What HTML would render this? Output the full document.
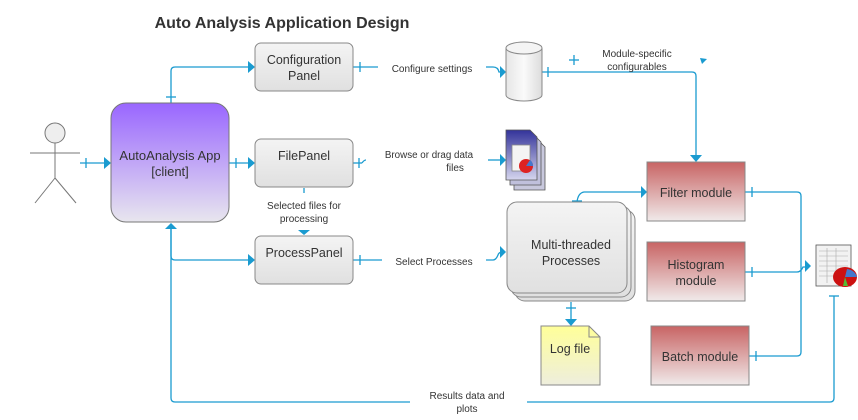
<!DOCTYPE html>
<html><head><meta charset="utf-8"><style>
html,body{margin:0;padding:0;background:#fff;}
svg{display:block;font-family:"Liberation Sans",Arial,sans-serif;}
</style></head><body>
<svg width="858" height="420" viewBox="0 0 858 420" xmlns="http://www.w3.org/2000/svg">
<defs>
<linearGradient id="gp" x1="0" y1="0" x2="0" y2="1"><stop offset="0" stop-color="#9966ff"/><stop offset="1" stop-color="#e8e6ee"/></linearGradient>
<linearGradient id="gg" x1="0" y1="0" x2="0" y2="1"><stop offset="0" stop-color="#f4f4f4"/><stop offset="1" stop-color="#e0e0e0"/></linearGradient>
<linearGradient id="gr" x1="0" y1="0" x2="0" y2="1"><stop offset="0" stop-color="#c86464"/><stop offset="1" stop-color="#f0eaea"/></linearGradient>
<linearGradient id="gy" x1="0" y1="0" x2="0" y2="1"><stop offset="0" stop-color="#ffff99"/><stop offset="1" stop-color="#eeeedd"/></linearGradient>
<linearGradient id="gb" x1="0" y1="0" x2="0" y2="1"><stop offset="0" stop-color="#33339a"/><stop offset="1" stop-color="#d6d6ee"/></linearGradient>
<linearGradient id="gc" x1="0" y1="0" x2="1" y2="0"><stop offset="0" stop-color="#e6e6e6"/><stop offset="0.5" stop-color="#fafafa"/><stop offset="1" stop-color="#dcdcdc"/></linearGradient>
</defs>

<text x="282" y="28" font-size="16" font-weight="bold" fill="#333" text-anchor="middle">Auto Analysis Application Design</text>

<!-- actor -->
<g stroke="#777" stroke-width="1" fill="none">
<circle cx="55" cy="133" r="10" fill="#eee"/>
<line x1="55" y1="143" x2="55" y2="178"/>
<line x1="30" y1="153" x2="80" y2="153"/>
<line x1="55" y1="178" x2="35" y2="203"/>
<line x1="55" y1="178" x2="76" y2="203"/>
</g>

<!-- connectors -->
<g stroke="#1a9bd0" stroke-width="1.3" fill="none">
<line x1="80" y1="163" x2="106" y2="163"/><line x1="86" y1="158" x2="86" y2="168"/>
<path d="M171 103 V71 Q171 67 175 67 H250"/><line x1="166" y1="97" x2="176" y2="97"/>
<line x1="229" y1="163" x2="250" y2="163"/><line x1="236" y1="158" x2="236" y2="168"/>
<line x1="304" y1="188" x2="304" y2="193"/>
<path d="M171 228 V256 Q171 260 175 260 H250"/>
<path d="M171 228 V398 Q171 402 175 402 H410"/>
<path d="M527 402 H830 Q834 402 834 398 V296"/><line x1="829" y1="296" x2="839" y2="296"/>
<line x1="353" y1="67" x2="378" y2="67"/><line x1="360" y1="62" x2="360" y2="72"/>
<path d="M486 67 H493 Q498 67 499 72 Q500 72 502 72"/>
<path d="M542 72 H692 Q696 72 696 76 V156"/><line x1="548" y1="67" x2="548" y2="77"/>
<line x1="574" y1="55" x2="574" y2="65"/><line x1="569" y1="60" x2="579" y2="60"/>
<line x1="353" y1="163" x2="362" y2="163"/><line x1="359" y1="158" x2="359" y2="168"/>
<path d="M362 163 Q364 160 366 160"/>
<line x1="488" y1="160" x2="502" y2="160"/>
<line x1="353" y1="260" x2="382" y2="260"/><line x1="360" y1="255" x2="360" y2="265"/>
<path d="M486 260 H493 Q496 260 498 255 Q499 252 502 252"/>
<path d="M577 202 Q578 193 584 192 H641"/><line x1="572" y1="201" x2="582" y2="201"/>
<line x1="571" y1="302" x2="571" y2="320"/><line x1="566" y1="308" x2="576" y2="308"/>
<path d="M745 192 H797 Q801 192 801 196 V352 Q801 356 797 356 H749"/><line x1="752" y1="187" x2="752" y2="197"/><line x1="756" y1="351" x2="756" y2="361"/>
<path d="M745 272 H797 Q801 272 803 267 H806"/><line x1="752" y1="267" x2="752" y2="277"/>
</g>
<g fill="#1a9bd0">
<polygon points="104,157 111,163 104,169"/>
<polygon points="248,61 255,67 248,73"/>
<polygon points="248,157 255,163 248,169"/>
<polygon points="248,254 255,260 248,266"/>
<polygon points="165,229 171,223 177,229"/>
<polygon points="298,230 310,230 304,235"/>
<polygon points="500,66 506,72 500,78"/>
<polygon points="690,155 702,155 696,162"/>
<polygon points="700,58 707,59 702,64"/>
<polygon points="500,154 506,160 500,166"/>
<polygon points="500,246 506,252 500,258"/>
<polygon points="641,186 647,192 641,198"/>
<polygon points="565,319 577,319 571,326"/>
<polygon points="805,260 811,266 805,272"/>
</g>

<!-- boxes -->
<rect x="111" y="103" width="118" height="119" rx="15" fill="url(#gp)" stroke="#777"/>
<text font-size="13" fill="#333" text-anchor="middle"><tspan x="170" y="160">AutoAnalysis App</tspan><tspan x="170" y="176">[client]</tspan></text>

<g stroke="#888" fill="url(#gg)">
<rect x="255" y="43" width="98" height="48" rx="6"/>
<rect x="255" y="139" width="98" height="48" rx="6"/>
<rect x="255" y="236" width="98" height="48" rx="6"/>
</g>
<g font-size="12.5" fill="#333" text-anchor="middle">
<text x="304" y="64">Configuration</text><text x="304" y="80">Panel</text>
<text x="304" y="160">FilePanel</text>
<text x="304" y="257">ProcessPanel</text>
</g>

<g font-size="10" fill="#333" text-anchor="middle">
<text x="304" y="209">Selected files for</text><text x="304" y="222">processing</text>
<text x="432" y="72">Configure settings</text>
<text x="429" y="158" font-size="9.8">Browse or drag data</text><text x="455" y="171">files</text>
<text x="434" y="265">Select Processes</text>
<text x="637" y="57">Module-specific</text><text x="637" y="70">configurables</text>
<text x="467" y="399">Results data and</text><text x="467" y="412">plots</text>
</g>

<!-- cylinder -->
<path d="M506 48 V95 A18 6 0 0 0 542 95 V48" fill="url(#gc)" stroke="#888"/>
<ellipse cx="524" cy="48" rx="18" ry="6" fill="#f4f4f4" stroke="#888"/>

<!-- doc icon -->
<g stroke="#555" stroke-width="0.8">
<path d="M514 140 H538 L545 147 V190 H514 Z" fill="#c8c8dd"/>
<path d="M510 135 H534 L541 142 V185 H510 Z" fill="#c0c0dc"/>
<path d="M506 130 H530 L537 137 V180 H506 Z" fill="url(#gb)"/>
</g>
<rect x="512" y="145" width="18" height="26" fill="#f4f4f4" stroke="#888" stroke-width="0.8"/>
<circle cx="526" cy="166" r="7" fill="#d22"/>
<path d="M526 166 L530 160 A7 7 0 0 1 533 166 Z" fill="#47c"/>

<!-- multi -->
<g stroke="#888" fill="url(#gg)">
<rect x="515" y="210" width="120" height="91" rx="10"/>
<rect x="511" y="206" width="120" height="91" rx="10"/>
<rect x="507" y="202" width="120" height="91" rx="10"/>
</g>
<text font-size="12.5" fill="#333" text-anchor="middle"><tspan x="571" y="249">Multi-threaded</tspan><tspan x="571" y="265">Processes</tspan></text>

<!-- log -->
<path d="M541 326 H589 L600 337 V385 H541 Z" fill="url(#gy)" stroke="#888"/>
<path d="M589 326 V337 H600" fill="none" stroke="#888"/>
<text x="570" y="353" font-size="12.5" fill="#333" text-anchor="middle">Log file</text>

<!-- modules -->
<g stroke="#888" fill="url(#gr)">
<rect x="647" y="162" width="98" height="59"/>
<rect x="647" y="242" width="98" height="59"/>
<rect x="651" y="326" width="98" height="59"/>
</g>
<g font-size="12.5" fill="#333" text-anchor="middle">
<text x="696" y="197">Filter module</text>
<text x="696" y="269">Histogram</text><text x="696" y="285">module</text>
<text x="700" y="361">Batch module</text>
</g>

<!-- spreadsheet icon -->
<rect x="816" y="245" width="35" height="41" fill="#f2f2f2" stroke="#555" stroke-width="0.8"/>
<g stroke="#aaa" stroke-width="0.6">
<line x1="819" y1="251" x2="848" y2="251"/><line x1="819" y1="256" x2="848" y2="256"/><line x1="819" y1="261" x2="848" y2="261"/><line x1="819" y1="266" x2="848" y2="266"/><line x1="819" y1="271" x2="848" y2="271"/><line x1="819" y1="276" x2="848" y2="276"/>
<line x1="827" y1="248" x2="827" y2="283"/><line x1="836" y1="248" x2="836" y2="283"/>
</g>
<ellipse cx="845" cy="277" rx="12" ry="10" fill="#c11"/>
<path d="M845 277 L847 269 A12 10 0 0 1 857 277 Z" fill="#47c"/>
<path d="M845 277 L843 286 L848 286 Z" fill="#5b3"/>
</svg>
</body></html>
